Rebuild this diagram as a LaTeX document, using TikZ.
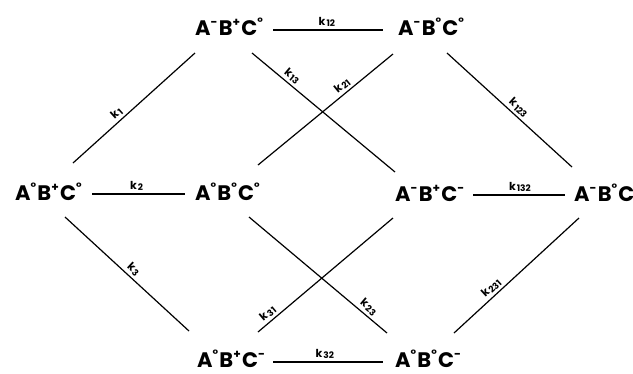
\documentclass[tikz,border=0pt]{standalone}
\usepackage{fontspec}
\setmainfont{Poppins}
\usetikzlibrary{calc}
\newcommand\sps[1]{\raisebox{0.40em}{\fontsize{12}{12}\selectfont #1}\kern1.2pt}
\newcommand\kk[1]{k\kern1pt\raisebox{-1.5pt}{\fontsize{9}{9}\selectfont #1}}
\begin{document}
\begin{tikzpicture}[x=1pt,y=-1pt,
  state/.style={anchor=base west,inner sep=0pt,font=\fontsize{21}{21}\selectfont\bfseries},
  conn/.style={line width=1.2pt},
  rate/.style={sloped,above,inner sep=2.5pt,font=\fontsize{11}{11}\selectfont\bfseries}]
\useasboundingbox (0,0) rectangle (633,373);
\node[state] (n1) at (195,35) {A\sps{-}B\sps{+}C\sps{°}};
\node[state] (n2) at (398,35) {A\sps{-}B\sps{°}C\sps{°}};
\node[state] (m1) at (15,200) {A\sps{°}B\sps{+}C\sps{°}};
\node[state] (m2) at (195,200) {A\sps{°}B\sps{°}C\sps{°}};
\node[state] (m3) at (395,201) {A\sps{-}B\sps{+}C\sps{-}};
\node[state] (m4) at (574,201) {A\sps{-}B\sps{°}C};
\node[state] (b1) at (197,367) {A\sps{°}B\sps{+}C\sps{-}};
\node[state] (b2) at (395,367) {A\sps{°}B\sps{°}C\sps{-}};
% horizontal
\draw[conn] ([shift={(78,-5)}]n1.base west) -- node[rate,pos=0.49]{\kk{12}} ([shift={(-15,-5)}]n2.base west);
\draw[conn] ([shift={(77,-6)}]m1.base west) -- node[rate,pos=0.48]{\kk{2}} ([shift={(-10,-6)}]m2.base west);
\draw[conn] ([shift={(78,-6)}]m3.base west) -- node[rate,pos=0.51]{\kk{132}} ([shift={(-9,-6)}]m4.base west);
\draw[conn] ([shift={(76,-5)}]b1.base west) -- node[rate,pos=0.47]{\kk{32}} ([shift={(-12,-5)}]b2.base west);
% diagonals
\draw[conn] ([shift={(58,-37)}]m1.base west) -- node[rate,pos=0.40]{\kk{1}} ([shift={(0,18)}]n1.base west);
\draw[conn] ([shift={(57,18)}]n1.base west) -- node[rate,pos=0.245]{\kk{13}} ([shift={(0,-29)}]m3.base west);
\draw[conn] ([shift={(63,-35)}]m2.base west) -- node[rate,pos=0.66]{\kk{21}} ([shift={(-5,19)}]n2.base west);
\draw[conn] ([shift={(49,18)}]n2.base west) -- node[rate,pos=0.53]{\kk{123}} ([shift={(-2,-34)}]m4.base west);
\draw[conn] ([shift={(50,17)}]m1.base west) -- node[rate,pos=0.51]{\kk{3}} ([shift={(-8,-36)}]b1.base west);
\draw[conn] ([shift={(54,17)}]m2.base west) -- node[rate,pos=0.83]{\kk{23}} ([shift={(-8,-34)}]b2.base west);
\draw[conn] ([shift={(61,-35)}]b1.base west) -- node[rate,pos=0.11]{\kk{31}} ([shift={(-2,17)}]m3.base west);
\draw[conn] ([shift={(59,-34)}]b2.base west) -- node[rate,pos=0.34]{\kk{231}} ([shift={(5,17)}]m4.base west);
\end{tikzpicture}
\end{document}
